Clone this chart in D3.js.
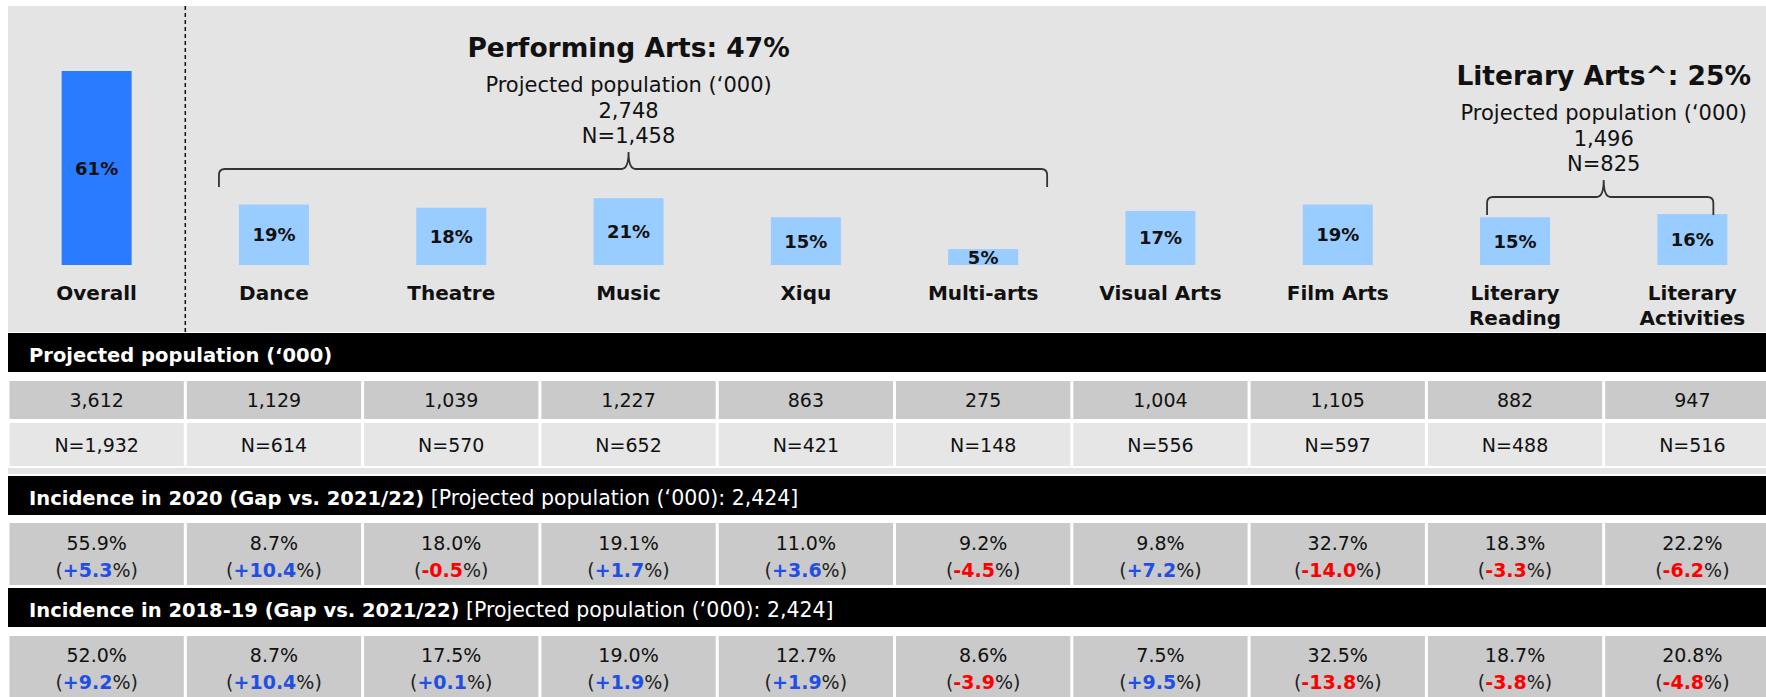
<!DOCTYPE html>
<html>
<head>
<meta charset="utf-8">
<script src="https://cdn.jsdelivr.net/npm/d3@7"></script>
<style>
    body { margin: 0; background: #fff; }
    text { font-family: "DejaVu Sans", sans-serif; fill: #111; }
</style>
</head>
<body>
<script>
// chart values
const categories = ["Overall", "Dance", "Theatre", "Music", "Xiqu", "Multi-arts", "Visual Arts", "Film Arts", "Literary Reading", "Literary Activities"];
const incidence = [61, 19, 18, 21, 15, 5, 17, 19, 15, 16];
const population = [3612, 1129, 1039, 1227, 863, 275, 1004, 1105, 882, 947];
const sampleN = [1932, 614, 570, 652, 421, 148, 556, 597, 488, 516];
const incidence2020 = [55.9, 8.7, 18.0, 19.1, 11.0, 9.2, 9.8, 32.7, 18.3, 22.2];
const gap2020 = [5.3, 10.4, -0.5, 1.7, 3.6, -4.5, 7.2, -14.0, -3.3, -6.2];
const incidence2018 = [52.0, 8.7, 17.5, 19.0, 12.7, 8.6, 7.5, 32.5, 18.7, 20.8];
const gap2018 = [9.2, 10.4, 0.1, 1.9, 1.9, -3.9, 9.5, -13.8, -3.8, -4.8];

const groupTitles = ["Performing Arts: 47%", "Literary Arts^: 25%"];
const groupPopulation = [2748, 1496];
const groupN = [1458, 825];
const groupFirst = ["Dance", "Literary Reading"];
const groupLast = ["Multi-arts", "Literary Activities"];

const headers = [
    ["Projected population (\u2018000)", ""],
    ["Incidence in 2020 (Gap vs. 2021/22)", " [Projected population (\u2018000): 2,424]"],
    ["Incidence in 2018-19 (Gap vs. 2021/22)", " [Projected population (\u2018000): 2,424]"]
];

const width = 1766;
const height = 697;
const svg = d3.select("body").append("svg").attr("width", width).attr("height", height);

const locale = d3.formatLocale({decimal: ".", thousands: ",", grouping: [3], currency: ["", ""], minus: "-"});
const fmtInt = locale.format(",");
const fmtPct = locale.format(".1f");
const fmtGap = locale.format("+.1f");

const colStep = 177.3;
const x = d3.scaleBand().domain(categories).range([8, 8 + colStep * categories.length]);
const cx = c => x(c) + x.bandwidth() / 2;
const y = d3.scaleLinear().domain([0, 61]).range([265, 71]);
const barW = 70;
const tableFont = 19;

// top grey panel
svg.append("rect").attr("x", 8).attr("y", 6).attr("width", width - 8).attr("height", 326).attr("fill", "#e4e4e4");

svg.append("line")
    .attr("x1", x("Dance")).attr("x2", x("Dance"))
    .attr("y1", 6).attr("y2", 333)
    .attr("stroke", "#111").attr("stroke-width", 1.5).attr("stroke-dasharray", "4,3");

// bars
const cols = categories.map((c, i) => ({c, i, v: incidence[i]}));

svg.selectAll(".bar").data(cols).join("rect")
    .attr("class", "bar")
    .attr("x", d => cx(d.c) - barW / 2)
    .attr("width", barW)
    .attr("y", d => y(d.v))
    .attr("height", d => y(0) - y(d.v))
    .attr("fill", d => d.i == 0 ? "#2a7bff" : "#99ccff");

svg.selectAll(".barlabel").data(cols).join("text")
    .attr("class", "barlabel")
    .attr("x", d => cx(d.c))
    .attr("y", d => (y(d.v) + y(0)) / 2 + 6.5)
    .attr("text-anchor", "middle")
    .attr("font-size", 18).attr("font-weight", "bold")
    .text(d => d.v + "%");

const catLabels = svg.selectAll(".cat").data(cols).join("text")
    .attr("class", "cat")
    .attr("text-anchor", "middle")
    .attr("font-size", 20).attr("font-weight", "bold");
catLabels.selectAll("tspan")
    .data(d => (d.c.startsWith("Literary") ? d.c.split(" ") : [d.c]).map(t => ({t, c: d.c})))
    .join("tspan")
    .attr("x", d => cx(d.c))
    .attr("y", (d, j) => 300 + j * 25)
    .text(d => d.t);

// group titles and braces
function bracePath(x1, x2, xm, yLine, yEnd, yTip) {
    const r = 6;
    return `M${x1},${yEnd} L${x1},${yLine + r} Q${x1},${yLine} ${x1 + r},${yLine} L${xm - 7},${yLine} Q${xm},${yLine} ${xm},${yTip}` +
        ` Q${xm},${yLine} ${xm + 7},${yLine} L${x2 - r},${yLine} Q${x2},${yLine} ${x2},${yLine + r} L${x2},${yEnd}`;
}

groupTitles.forEach((title, g) => {
    const top = g == 0 ? 57 : 85;
    const xm = (cx(groupFirst[g]) + cx(groupLast[g])) / 2;
    const x1 = g == 0 ? cx(groupFirst[g]) - 55 : cx(groupFirst[g]) - 28;
    const x2 = g == 0 ? cx(groupLast[g]) + 64 : cx(groupLast[g]) + 21;

    svg.append("text").attr("x", xm).attr("y", top)
        .attr("text-anchor", "middle").attr("font-size", 26.5).attr("font-weight", "bold")
        .text(title);
    [`Projected population (\u2018000)`, fmtInt(groupPopulation[g]), "N=" + fmtInt(groupN[g])].forEach((t, k) => {
        svg.append("text").attr("x", xm).attr("y", top + 35 + k * 25.5)
            .attr("text-anchor", "middle").attr("font-size", 21).attr("fill", "#222")
            .text(t);
    });
    svg.append("path")
        .attr("d", bracePath(x1, x2, xm, top + 112, top + 130, top + 95))
        .attr("fill", "none").attr("stroke", "#333").attr("stroke-width", 1.8);
});

// table
const headerTops = [333, 476, 588];
headers.forEach((h, k) => {
    svg.append("rect").attr("x", 8).attr("y", headerTops[k]).attr("width", width - 8).attr("height", 39).attr("fill", "#000");
    const t = svg.append("text").attr("x", 29).attr("y", headerTops[k] + 29).attr("font-size", 19.5);
    t.append("tspan").attr("font-weight", "bold").attr("fill", "#fff").text(h[0]);
    t.append("tspan").attr("font-size", 20.5).attr("fill", "#fff").text(h[1]);
});

svg.append("rect").attr("x", 8).attr("y", 468).attr("width", width - 8).attr("height", 6).attr("fill", "#e4e4e4");

function cellRow(cls, top, h, fill) {
    svg.selectAll("." + cls).data(cols).join("rect")
        .attr("class", cls)
        .attr("x", d => x(d.c) + 1.5)
        .attr("width", x.bandwidth() - 3)
        .attr("y", top).attr("height", h)
        .attr("fill", fill);
}

cellRow("popcell", 381, 38, "#cacaca");
cellRow("ncell", 423, 43, "#e6e6e6");
cellRow("inc20cell", 523, 62, "#cacaca");
cellRow("inc18cell", 636, 70, "#cacaca");

svg.selectAll(".poptext").data(cols).join("text")
    .attr("class", "poptext")
    .attr("x", d => cx(d.c)).attr("y", 407)
    .attr("text-anchor", "middle").attr("font-size", tableFont).attr("fill", "#222")
    .text(d => fmtInt(population[d.i]));

svg.selectAll(".ntext").data(cols).join("text")
    .attr("class", "ntext")
    .attr("x", d => cx(d.c)).attr("y", 452)
    .attr("text-anchor", "middle").attr("font-size", tableFont).attr("fill", "#222")
    .text(d => "N=" + fmtInt(sampleN[d.i]));

function incidenceCells(cls, values, gaps, baseY) {
    svg.selectAll("." + cls + "v").data(cols).join("text")
        .attr("class", cls + "v")
        .attr("x", d => cx(d.c)).attr("y", baseY)
        .attr("text-anchor", "middle").attr("font-size", tableFont).attr("fill", "#222")
        .text(d => fmtPct(values[d.i]) + "%");

    const g = svg.selectAll("." + cls + "g").data(cols).join("text")
        .attr("class", cls + "g")
        .attr("x", d => cx(d.c)).attr("y", baseY + 27)
        .attr("text-anchor", "middle").attr("font-size", tableFont);
    g.append("tspan").attr("fill", "#222").text("(");
    g.append("tspan").attr("font-weight", "bold")
        .attr("fill", d => gaps[d.i] < 0 ? "#ff0000" : "#1f4fe6")
        .text(d => fmtGap(gaps[d.i]));
    g.append("tspan").attr("fill", "#222").text("%)");
}

incidenceCells("i20", incidence2020, gap2020, 550);
incidenceCells("i18", incidence2018, gap2018, 662);
</script>
</body>
</html>
